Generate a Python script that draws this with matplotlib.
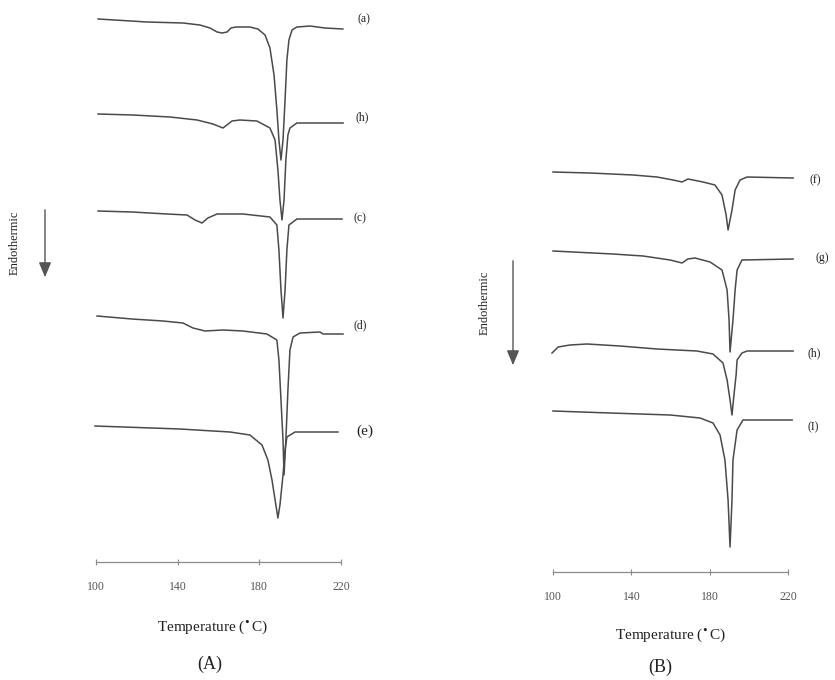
import matplotlib
matplotlib.use("Agg")
import matplotlib.pyplot as plt

W, H = 835, 680
plt.rcParams['font.family'] = ['Liberation Serif', 'DejaVu Serif']

# ---------------- data (temperature in °C, relative heat flow, arbitrary units) -------------
ticks = [100, 140, 180, 220]

# Panel A
a_T = [101, 125, 142.6, 150.9, 155.8, 159.3, 161.7, 164.2, 166.1, 168.6, 175.4, 179.3, 182.8, 185.2,
       187.2, 188.6, 189.6, 190.6, 191.6, 192.6, 193.5, 194.5, 196.0, 198.4, 204.8, 212.1, 220.9]
a_S = [0, -3, -4, -6, -9, -13, -14, -13, -9, -8, -8, -10, -16, -29,
       -56, -91, -121, -141, -121, -81, -41, -21, -11, -8, -7, -9, -10]

b_T = [101, 118.1, 136.2, 149.5, 157.3, 162.2, 166.6, 170.5, 178.8, 185.2, 187.7, 189.1, 190.1,
       191.1, 192.1, 193.0, 194.0, 195.0, 198.4, 221.0]
b_S = [0, -1, -3, -6, -10, -14, -7, -6, -7, -14, -26, -56, -86, -106, -86, -46, -21, -14, -9, -9]

c_T = [101, 117.6, 134.8, 144.6, 148.5, 151.9, 154.8, 159.3, 172.0, 185.2, 188.6, 189.6, 190.6,
       191.6, 192.6, 193.5, 194.5, 198.4, 220.5]
c_S = [0, -1, -3, -4, -9, -12, -7, -3, -3, -6, -14, -39, -79, -107, -79, -39, -14, -8, -8]

d_T = [100.5, 117.6, 132.8, 142.6, 147.5, 153.4, 162.2, 172.0, 183.7, 188.6, 189.6, 190.6, 191.6,
       192.1, 193.0, 194.0, 195.0, 196.5, 199.9, 209.7, 211.2, 221.0]
d_S = [0, -3, -5, -7, -12, -15, -14, -15, -18, -24, -44, -84, -124, -159, -124, -74, -34, -21,
       -17, -16, -18, -18]

e_T = [99.5, 141.1, 165.6, 175.4, 181.3, 184.2, 186.2, 188.1, 189.1, 190.1, 191.6, 192.6, 193.5,
       197.5, 218.5]
e_S = [0, -3, -6, -9, -19, -34, -54, -79, -92, -79, -49, -24, -11, -6, -6]

A_labels = ['(a)', '(h)', '(c)', '(d)', '(e)']
A_offsets = [-19, -114, -211, -316, -426]

# Panel B
f_T = [100, 118.9, 140.9, 153.1, 161.3, 165.9, 168.9, 171.5, 176.6, 182.7, 186.3, 188.4, 189.4,
       191.4, 193.0, 195.5, 199.1, 222.6]
f_S = [0, -1, -3, -5, -8, -10, -7, -8, -10, -13, -23, -43, -58, -38, -18, -8, -5, -6]

g_T = [100, 130.6, 146.0, 159.8, 165.9, 168.9, 172.5, 180.2, 186.3, 188.9, 189.9, 190.4, 191.9,
       193.0, 194.0, 196.5, 222.6]
g_S = [0, -3, -5, -9, -12, -8, -7, -11, -19, -39, -69, -101, -69, -39, -19, -9, -8]

h_T = [99.5, 102.6, 108.7, 117.4, 134.2, 153.1, 173.5, 181.7, 186.8, 188.9, 190.4, 191.4, 192.4,
       193.5, 194.0, 196.5, 199.1, 222.6]
h_S = [0, 6, 8, 9, 7, 4, 2, -1, -10, -27, -47, -62, -42, -22, -7, 0, 2, 2]

i_T = [100, 129.1, 159.8, 175.1, 181.7, 185.3, 187.8, 189.4, 190.4, 191.4, 191.9, 194.0, 197.0, 222.1]
i_S = [0, -2, -4, -7, -12, -24, -49, -89, -136, -89, -49, -19, -9, -9]

B_labels = ['(f)', '(g)', '(h)', '(I)']
B_offsets = [-172, -251, -353, -411]

# ---------------- figure -------------------------------------------------------------------
fig = plt.figure(figsize=(W / 100, H / 100), dpi=100)
fig.patch.set_facecolor('white')

def fx(px):
    return px / W

def fy(py):
    return 1 - py / H

line_color = '#4a4a4a'
axis_color = '#8a8a8a'
text_color = '#222222'

def make_axes(left_px, right_px, bottom_px, top_px):
    ax = fig.add_axes([fx(left_px), fy(bottom_px), fx(right_px) - fx(left_px),
                       fy(top_px) - fy(bottom_px)])
    ax.set_xlim(100, 220)
    ax.set_ylim(-bottom_px, -top_px)
    for s in ['left', 'right', 'top']:
        ax.spines[s].set_visible(False)
    ax.spines['bottom'].set_color(axis_color)
    ax.spines['bottom'].set_linewidth(0.9)
    ax.set_yticks([])
    ax.set_xticks(ticks)
    ax.set_xticklabels([str(t) for t in ticks], fontsize=8.5, color='#555555')
    ax.tick_params(axis='x', direction='inout', length=4, width=0.8, color=axis_color, pad=12)
    ax.patch.set_alpha(0)
    return ax

axA = make_axes(96, 341, 562, 10)
axB = make_axes(553, 788, 572, 10)

A_curves = [(a_T, a_S), (b_T, b_S), (c_T, c_S), (d_T, d_S), (e_T, e_S)]
for (T, S), off in zip(A_curves, A_offsets):
    axA.plot(T, [s + off for s in S], color=line_color, lw=1.1, clip_on=False)

B_curves = [(f_T, f_S), (g_T, g_S), (h_T, h_S), (i_T, i_S)]
for (T, S), off in zip(B_curves, B_offsets):
    axB.plot(T, [s + off for s in S], color=line_color, lw=1.1, clip_on=False)

# curve labels
A_label_pos = [(357, 19), (356, 117), (353, 218), (353, 325), (356, 431)]
for lab, (x, y) in zip(A_labels, A_label_pos):
    fs = 11 if lab == '(e)' else 8.5
    fig.text(fx(x), fy(y), lab, fontsize=fs, color=text_color, ha='left', va='center')

B_label_pos = [(810, 180), (815, 258), (808, 353), (808, 427)]
for lab, (x, y) in zip(B_labels, B_label_pos):
    fig.text(fx(x), fy(y), lab, fontsize=8.5, color=text_color, ha='left', va='center')

# axis titles
fig.text(fx(212), fy(627), 'Temperature ($^{\\bullet}$C)', fontsize=11, color=text_color,
         ha='center', va='center')
fig.text(fx(670), fy(635), 'Temperature ($^{\\bullet}$C)', fontsize=11, color=text_color,
         ha='center', va='center')
fig.text(fx(210), fy(664), '(A)', fontsize=13, color=text_color, ha='center', va='center')
fig.text(fx(660), fy(667), '(B)', fontsize=13, color=text_color, ha='center', va='center')

# Endothermic labels and arrows
fig.text(fx(15), fy(243), 'Endothermic', fontsize=9, rotation=90, color=text_color,
         ha='center', va='center')
fig.text(fx(485), fy(303), 'Endothermic', fontsize=9, rotation=90, color=text_color,
         ha='center', va='center')
for x, y0, y1 in [(45, 207, 280), (513, 258, 368)]:
    fig.add_artist(matplotlib.patches.FancyArrowPatch(
        (fx(x), fy(y0)), (fx(x), fy(y1)), transform=fig.transFigure,
        arrowstyle='-|>,head_length=6,head_width=2.5', color='#555555', lw=1.0,
        mutation_scale=1.5))

fig.savefig('out.png', dpi=100, facecolor='white')
